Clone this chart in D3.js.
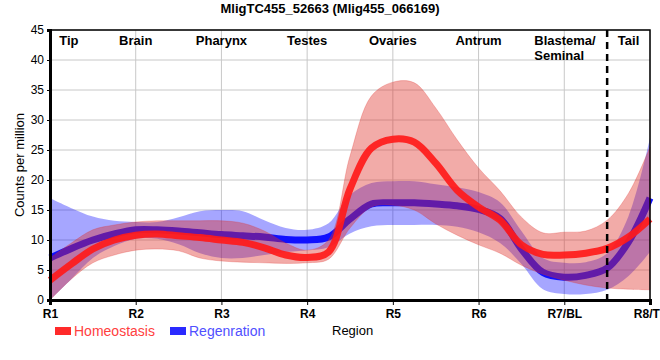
<!DOCTYPE html>
<html>
<head>
<meta charset="utf-8">
<script src="https://cdn.jsdelivr.net/npm/d3@7/dist/d3.min.js"></script>
<style>
  body { margin: 0; background: #fff; }
  svg { font-family: "Liberation Sans", Arial, sans-serif; }
</style>
</head>
<body>
<svg id="chart" width="660" height="360"></svg>
<script>
// sample positions along the body (1 = R1 ... 8 = R8), read at quarter steps
var xs = [1, 1.25, 1.5, 1.75, 2, 2.25, 2.5, 2.75, 3, 3.25, 3.5, 3.75, 4, 4.25, 4.5,
          4.75, 5, 5.25, 5.5, 5.75, 6, 6.25, 6.5, 6.75, 7, 7.25, 7.5, 7.75, 8];

var tickLabels = ["R1", "R2", "R3", "R4", "R5", "R6", "R7/BL", "R8/TL"];
var regionNames = ["Tip", "Brain", "Pharynx", "Testes", "Ovaries", "Antrum", "Blastema/|Seminal", "Tail"];
var regionPos = [1.22, 2, 3, 4, 5, 6, 7, 7.75];

var homMean  = [3.3, 6, 8.5, 10, 10.8, 11, 10.7, 10.4, 10.0, 9.6, 8.7, 7.5, 7.1, 8, 18.5,
                25.3, 26.8, 26.3, 22.8, 18.3, 15.5, 13.3, 9.2, 7.6, 7.5, 7.8, 8.6, 10.5, 13.5];
var homUpper = [7, 9.5, 11.7, 12.5, 13, 13.2, 13.2, 13.2, 13.2, 12.8, 11.5, 9.5, 8.3, 10, 24,
                34, 36.3, 36.2, 32, 26.7, 22, 18.2, 13.8, 11.2, 11.3, 11.5, 13.3, 17.8, 25.5];
var homLower = [0, 3.5, 6.2, 7.5, 8.3, 8.5, 8.2, 7, 6.5, 6.3, 6.2, 6.1, 6.2, 6.8, 12,
                15.5, 15.8, 15, 12.7, 10.8, 9.2, 7.8, 5.8, 4.3, 3.3, 2.5, 2, 1.8, 1.7];

var regMean  = [7, 8.6, 10, 11, 11.7, 11.7, 11.5, 11.2, 10.9, 10.7, 10.5, 10.1, 10, 10.5, 13.5,
                16, 16.2, 16.2, 16, 15.7, 15.1, 13.6, 8.5, 4.6, 3.8, 4.1, 5.3, 9.7, 17];
var regUpper = [17, 15.3, 13.9, 13.2, 13, 13, 13.8, 14.8, 15, 14.8, 13.3, 12, 11.7, 12.8, 17.5,
                19.5, 19.8, 19.8, 19.3, 18.8, 18, 16.3, 11.5, 7, 6.2, 6.3, 7.8, 14, 27];
var regLower = [0, 3.5, 7, 9, 10.2, 10.2, 9.3, 7.8, 7, 7, 7.5, 8, 8.3, 8.8, 11.1,
                12.3, 12.5, 12.5, 12.5, 12.2, 11.3, 9.5, 6, 1.8, 1, 1, 1.7, 4, 8];

var yTicks = [0, 5, 10, 15, 20, 25, 30, 35, 40, 45];
var divider = 7.5;

var svg = d3.select("#chart");

var x = d3.scaleLinear().domain([1, 8]).range([50, 650]);
var y = d3.scaleLinear().domain([0, 45]).range([300, 30]);
var smooth = d3.curveCatmullRom.alpha(0.5);

// grid
svg.append("g")
    .selectAll("line")
    .data(yTicks.slice(1))
    .enter().append("line")
      .attr("x1", x(1)).attr("x2", x(8))
      .attr("y1", function(d) { return y(d); })
      .attr("y2", function(d) { return y(d); })
      .attr("stroke", "#c8c8c8").attr("stroke-width", 1);

svg.append("g")
    .selectAll("line")
    .data(d3.range(2, 9))
    .enter().append("line")
      .attr("x1", function(d) { return x(d); })
      .attr("x2", function(d) { return x(d); })
      .attr("y1", y(0)).attr("y2", y(45))
      .attr("stroke", "#c8c8c8").attr("stroke-width", 1);

var area = function(lo, hi) {
  return d3.area()
    .x(function(d, i) { return x(xs[i]); })
    .y0(function(d, i) { return y(lo[i]); })
    .y1(function(d, i) { return y(hi[i]); })
    .curve(smooth)(xs);
};
var line = function(vals) {
  return d3.line()
    .x(function(d, i) { return x(xs[i]); })
    .y(function(d) { return y(d); })
    .curve(smooth)(vals);
};

// regeneration first, homeostasis on top
svg.append("path")
    .attr("d", area(regLower, regUpper))
    .attr("fill", "rgb(0,0,255)").attr("fill-opacity", 0.35);
svg.append("path")
    .attr("d", line(regMean))
    .attr("fill", "none").attr("stroke", "#1010ff").attr("stroke-width", 7);

svg.append("path")
    .attr("d", area(homLower, homUpper))
    .attr("fill", "rgb(222,45,38)").attr("fill-opacity", 0.4)
    .attr("stroke", "rgb(222,45,38)").attr("stroke-opacity", 0.25);
svg.append("path")
    .attr("d", line(homMean))
    .attr("fill", "none").attr("stroke", "#ff1a1a").attr("stroke-width", 7)
    .attr("stroke-opacity", 0.92);

// dashed separator
svg.append("line")
    .attr("x1", x(divider)).attr("x2", x(divider))
    .attr("y1", y(45)).attr("y2", y(0) + 6)
    .attr("stroke", "#000").attr("stroke-width", 2.5)
    .attr("stroke-dasharray", "7,5");

// axes
var xAxis = svg.append("g")
    .attr("transform", "translate(0," + y(0) + ")")
    .call(d3.axisBottom(x)
      .tickValues(d3.range(1, 9))
      .tickSize(5)
      .tickFormat(function(d, i) { return tickLabels[i]; }));
xAxis.select(".domain").attr("stroke-width", 3);
xAxis.selectAll("text")
    .attr("font-size", 12).attr("font-weight", "bold").attr("fill", "#000")
    .attr("dy", "0.85em");

var yAxis = svg.append("g")
    .attr("transform", "translate(" + x(1) + ",0)")
    .call(d3.axisLeft(y).tickValues(yTicks).tickSize(3));
yAxis.select(".domain").attr("stroke-width", 3);
yAxis.selectAll("text").attr("font-size", 12).attr("fill", "#000");

// top & right border
svg.append("path")
    .attr("d", "M" + x(1) + "," + y(45) + "H" + x(8) + "V" + y(0))
    .attr("fill", "none").attr("stroke", "#000").attr("stroke-width", 1.5);

// region names
regionNames.forEach(function(n, i) {
  var parts = n.split("|");
  var px = parts.length > 1 ? x(regionPos[i]) - 30 : x(regionPos[i]);
  var t = svg.append("text")
      .attr("font-size", 13).attr("font-weight", "bold")
      .attr("text-anchor", parts.length > 1 ? "start" : "middle")
      .attr("x", px)
      .attr("y", 45);
  parts.forEach(function(p, j) {
    t.append("tspan")
        .attr("x", px)
        .attr("dy", j ? 15 : 0)
        .text(p);
  });
});

// title
svg.append("text")
    .attr("x", 330).attr("y", 13)
    .attr("text-anchor", "middle")
    .attr("font-size", 13).attr("font-weight", "bold")
    .text("MligTC455_52663 (Mlig455_066169)");

// axis titles
svg.append("text")
    .attr("transform", "translate(24," + y(22.5) + ") rotate(-90)")
    .attr("text-anchor", "middle")
    .attr("font-size", 13)
    .text("Counts per million");

svg.append("text")
    .attr("x", 332).attr("y", 335)
    .attr("font-size", 13)
    .text("Region");

// legend
var legend = [
  { name: "Homeostasis", box: "#ff2a2a", txt: "#ff4040", x: 55 },
  { name: "Regenration", box: "#2a2aff", txt: "#5050ff", x: 170 }
];
legend.forEach(function(l) {
  svg.append("rect")
      .attr("x", l.x).attr("y", 327).attr("width", 16).attr("height", 8)
      .attr("fill", l.box);
  svg.append("text")
      .attr("x", l.x + 19).attr("y", 336)
      .attr("font-size", 14)
      .attr("fill", l.txt)
      .text(l.name);
});
</script>
</body>
</html>
